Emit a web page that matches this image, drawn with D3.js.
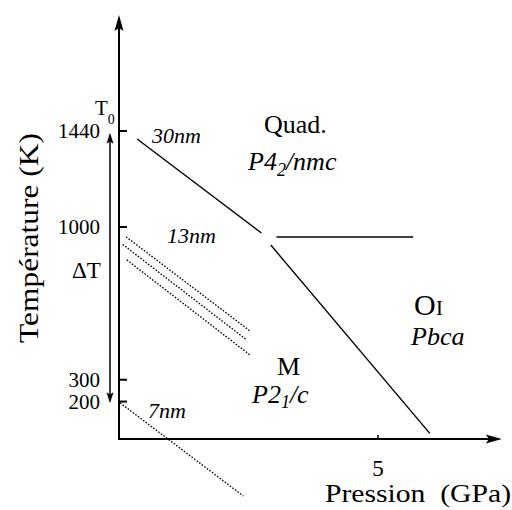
<!DOCTYPE html>
<html><head><meta charset="utf-8">
<script src="https://cdn.jsdelivr.net/npm/d3@7"></script>
<style>body{margin:0;background:#fff}svg{display:block}</style>
</head><body>
<svg id="c" width="512" height="510"></svg>
<script>
// ---- data ----
const yTicks = [1440, 1000, 300, 200];
const xTicks = [5];
const line30nm = [[0.35, 1401], [2.75, 970]];
const lineQuadOI = [[3.04, 952], [5.68, 952]];
const lineMOI = [[2.93, 915], [6.0, 52]];
const lines13nm = [
  [[0.135, 953], [2.53, 521]],
  [[0.07, 918], [2.45, 483]],
  [[0.15, 847], [2.53, 411]]
];
const line7nm = [[0.02, 192], [2.4, -235]];
const deltaT = [1430, 190];
const axisP = [0, 7.39];
const axisT = [26, 1969];

const FONT = "'Liberation Serif', 'DejaVu Serif', serif";
const svg = d3.select("#c").attr("font-family", FONT);
const x = d3.scaleLinear().domain([0, 5]).range([119, 378]);
const y = d3.scaleLinear().domain([0, 1440]).range([444.7, 130.5]);
const line = d3.line().x(d => x(d[0])).y(d => y(d[1]));

function txt(xp, yp, size, s, italic) {
  const t = svg.append("text").attr("x", xp).attr("y", yp).attr("font-size", size)
    .style("font-family", FONT).attr("fill", "#000");
  if (italic) t.attr("font-style", "italic");
  if (s !== undefined) t.text(s);
  return t;
}

// axes
const x0 = x(0), yb = y(axisT[0]);
svg.append("line").attr("x1", x0).attr("x2", x0).attr("y1", yb + 1).attr("y2", y(axisT[1]) + 10)
  .attr("stroke", "#000").attr("stroke-width", 2);
svg.append("line").attr("x1", x0 - 1).attr("x2", x(axisP[1]) - 8).attr("y1", yb).attr("y2", yb)
  .attr("stroke", "#000").attr("stroke-width", 2);
function arrowUp(cx, tip, len, hw) {
  return `M${cx},${tip} L${cx + hw},${tip + len} L${cx},${tip + len * 0.8} L${cx - hw},${tip + len} Z`;
}
function arrowDown(cx, tip, len, hw) {
  return `M${cx},${tip} L${cx + hw},${tip - len} L${cx},${tip - len * 0.8} L${cx - hw},${tip - len} Z`;
}
function arrowRight(tip, cy, len, hw) {
  return `M${tip},${cy} L${tip - len},${cy - hw} L${tip - len * 0.8},${cy} L${tip - len},${cy + hw} Z`;
}
svg.append("path").attr("d", arrowUp(x0, y(axisT[1]), 16, 4.5));
svg.append("path").attr("d", arrowRight(x(axisP[1]), yb, 16, 4.5));

// y ticks
const yAxisG = svg.append("g").attr("transform", `translate(${x0},0)`);
yAxisG.call(d3.axisRight(y).tickValues(yTicks).tickSize(8).tickFormat(""))
  .call(g => g.select(".domain").remove())
  .call(g => g.selectAll("line").attr("stroke-width", 2));
yTicks.forEach(t => {
  txt(100, y(t) + 7.5, 21, t).attr("text-anchor", "end");
});
// x ticks
xTicks.forEach(p => {
  svg.append("line").attr("x1", x(p)).attr("x2", x(p)).attr("y1", yb).attr("y2", yb - 4)
    .attr("stroke", "#000").attr("stroke-width", 1.5);
  txt(x(p), yb + 37, 23, p).attr("text-anchor", "middle");
});

// axis titles
txt(0, 0, 27, "Température (K)").attr("x", null).attr("y", null)
  .attr("transform", "translate(38,238) rotate(-90)").attr("text-anchor", "middle")
  .attr("textLength", 210).attr("lengthAdjust", "spacingAndGlyphs");
txt(325, 502, 25).attr("textLength", 186).attr("lengthAdjust", "spacingAndGlyphs")
  .style("white-space", "pre").text("Pression  (GPa)");

// phase boundaries
[line30nm, lineQuadOI, lineMOI].forEach(d => {
  svg.append("path").attr("d", line(d)).attr("fill", "none").attr("stroke", "#000").attr("stroke-width", 1.4);
});
lines13nm.concat([line7nm]).forEach(d => {
  svg.append("path").attr("d", line(d)).attr("fill", "none").attr("stroke", "#000")
    .attr("stroke-width", 1.3).attr("stroke-dasharray", "1.6,1.6");
});

// ΔT double arrow
const ax = 110;
svg.append("line").attr("x1", ax).attr("x2", ax).attr("y1", y(deltaT[0]) + 8).attr("y2", y(deltaT[1]) - 8)
  .attr("stroke", "#000").attr("stroke-width", 1.5);
svg.append("path").attr("d", arrowUp(ax, y(deltaT[0]), 11, 3.5));
svg.append("path").attr("d", arrowDown(ax, y(deltaT[1]), 11, 3.5));
txt(72, 278, 23, "ΔT");
const t0 = txt(95, 115, 21);
t0.append("tspan").text("T");
t0.append("tspan").attr("dy", 9).attr("font-size", 14).text("0");

// size labels
txt(152, 143, 22, "30nm", true);
txt(167, 243, 22, "13nm", true);
txt(148, 418, 22, "7nm", true);

// phase labels
txt(264, 133, 26, "Quad.");
const q = txt(248, 170, 26, undefined, true);
q.append("tspan").text("P4");
q.append("tspan").attr("dy", 6).attr("font-size", 18).text("2");
q.append("tspan").attr("dy", -6).text("/nmc");

txt(277, 375, 26, "M");
const m = txt(252, 403, 26, undefined, true);
m.append("tspan").text("P2");
m.append("tspan").attr("dy", 5).attr("font-size", 18).text("1");
m.append("tspan").attr("dy", -5).text("/c");

const o = txt(414, 315, 30);
o.append("tspan").text("O");
o.append("tspan").attr("font-size", 22).text("I");
txt(411, 345, 26, "Pbca", true);
</script>
</body></html>
